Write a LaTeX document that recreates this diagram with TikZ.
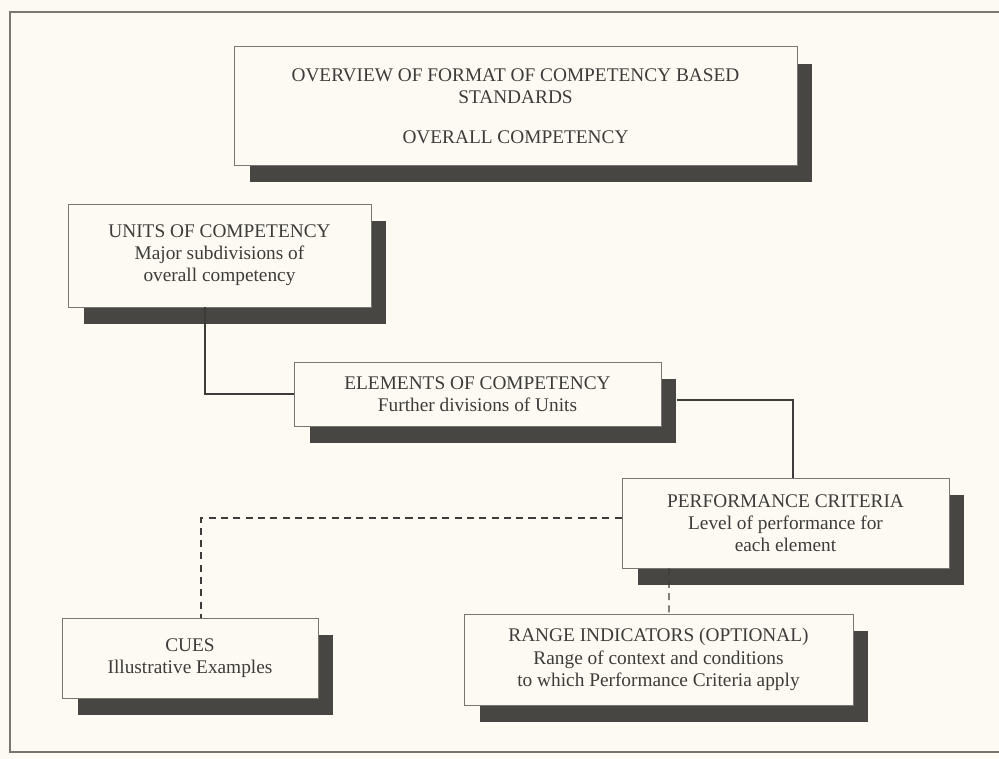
\documentclass[tikz,border=0pt]{standalone}
\usepackage{fontspec}
\setmainfont{Liberation Serif}
\usepackage{xcolor}
\usepackage{tikz}
\usetikzlibrary{positioning,calc,shadows}
\definecolor{paper}{RGB}{252,250,242}
\definecolor{ink}{RGB}{62,60,58}
\definecolor{shade}{RGB}{72,70,66}
\definecolor{rule}{RGB}{120,118,112}

\begin{document}
\begin{tikzpicture}[x=0.02cm,y=-0.02cm,
  card/.style={rectangle,draw=rule,line width=0.5pt,fill=paper,text=ink,align=center,
    font=\fontsize{11}{12.6}\selectfont,
    drop shadow={shadow xshift=0.31cm,shadow yshift=-0.34cm,fill=shade,opacity=1}},
  link/.style={draw=ink,line width=0.7pt},
  dashlink/.style={link,dashed,dash pattern=on 4pt off 3pt}
]
% page and frame
\fill[paper] (0,0) rectangle (999,759);
\useasboundingbox (0,0) rectangle (999,759);
\draw[rule,line width=0.8pt] (999,12) -- (10,12) -- (10,752) -- (999,752);

% boxes
\node[card,minimum width=11.26cm,minimum height=2.38cm] (fmt) at (515.5,106)
  {OVERVIEW OF FORMAT OF COMPETENCY BASED\\STANDARDS\\[0.35cm]OVERALL COMPETENCY};
\node[card,minimum width=6.06cm,minimum height=2.06cm] (units) at (219.5,255.5)
  {UNITS OF COMPETENCY\\Major subdivisions of\\overall competency};
\node[card,minimum width=7.34cm,minimum height=1.28cm] (elem) at (477.5,394)
  {ELEMENTS OF COMPETENCY\\Further divisions of Units};
\node[card,minimum width=6.54cm,minimum height=1.8cm] (perf) at (785.5,523)
  {PERFORMANCE CRITERIA\\Level of performance for\\each element};
\node[card,minimum width=5.12cm,minimum height=1.6cm] (cues) at (190,658)
  {CUES\\Illustrative Examples};
\node[card,minimum width=7.78cm,minimum height=1.82cm] (range) at (658.5,659.5)
  {RANGE INDICATORS (OPTIONAL)\\Range of context and conditions\\to which Performance Criteria apply};

% connectors
\draw[link] ([xshift=-0.29cm]units.south) |- (elem.west);
\draw[link] ([xshift=0.32cm,yshift=-0.12cm]elem.east) -| ([xshift=0.15cm]perf.north);
\draw[dashlink] ([yshift=0.1cm]perf.west) -| ([xshift=0.22cm]cues.north);
\draw[dashlink] ([xshift=-2.33cm]perf.south) -- ([xshift=0.21cm]range.north);
\end{tikzpicture}
\end{document}
